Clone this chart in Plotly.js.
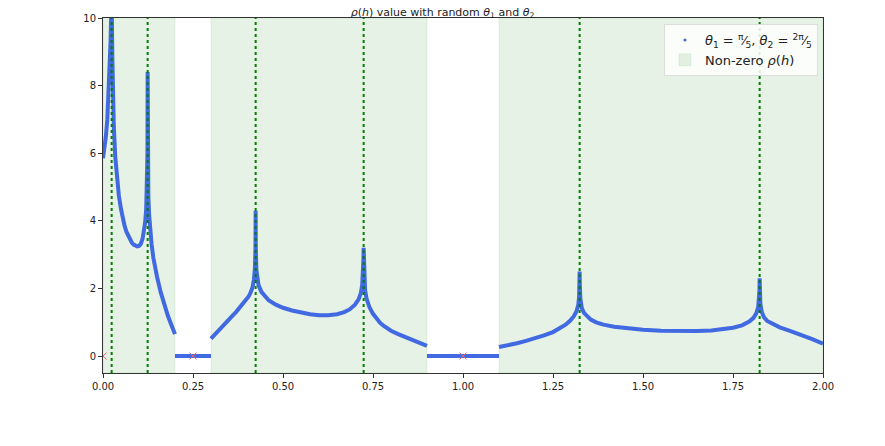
<!DOCTYPE html>
<html><head><meta charset="utf-8">
<script src="https://cdn.plot.ly/plotly-3.0.1.min.js"></script>
<style>body{margin:0;background:#fff}</style>
</head><body><div id="chart" style="width:885px;height:446px"></div>
<script>
// Segment 1 (non-zero region 0 - 0.2)
const seg1X = [0, 0.004, 0.008, 0.012, 0.016, 0.019, 0.021, 0.023, 0.024, 0.026, 0.028, 0.03, 0.034, 0.038, 0.044, 0.05, 0.055, 0.06, 0.065, 0.07, 0.075, 0.08, 0.085, 0.09, 0.095, 0.1, 0.105, 0.11, 0.114, 0.117, 0.12, 0.122, 0.1235, 0.124, 0.1245, 0.126, 0.128, 0.13, 0.135, 0.14, 0.145, 0.15, 0.16, 0.17, 0.18, 0.19, 0.2];
const seg1Y = [5.85, 6.1, 6.5, 7.0, 7.8, 8.5, 9.3, 10.2, 10.6, 8.8, 7.6, 6.8, 5.9, 5.3, 4.75, 4.35, 4.05, 3.85, 3.68, 3.55, 3.44, 3.36, 3.3, 3.26, 3.245, 3.26, 3.32, 3.47, 3.7, 3.95, 4.35, 4.9, 6.0, 8.4, 6.0, 4.7, 4.2, 3.85, 3.3, 2.9, 2.6, 2.35, 1.9, 1.53, 1.2, 0.92, 0.65];
// Segment 2 (non-zero region 0.3 - 0.9)
const seg2X = [0.3, 0.31, 0.32, 0.33, 0.34, 0.35, 0.36, 0.37, 0.38, 0.39, 0.4, 0.405, 0.41, 0.415, 0.419, 0.422, 0.4235, 0.424, 0.4245, 0.426, 0.428, 0.432, 0.44, 0.45, 0.46, 0.48, 0.5, 0.525, 0.55, 0.575, 0.6, 0.625, 0.65, 0.67, 0.685, 0.7, 0.71, 0.716, 0.72, 0.7225, 0.7235, 0.724, 0.7245, 0.726, 0.728, 0.732, 0.74, 0.75, 0.76, 0.77, 0.78, 0.8, 0.82, 0.84, 0.86, 0.88, 0.9];
const seg2Y = [0.52, 0.64, 0.76, 0.87, 0.98, 1.09, 1.2, 1.31, 1.43, 1.55, 1.68, 1.77, 1.88, 2.02, 2.25, 2.6, 3.2, 4.3, 3.2, 2.55, 2.3, 2.1, 1.9, 1.75, 1.65, 1.52, 1.43, 1.35, 1.29, 1.24, 1.21, 1.21, 1.24, 1.3, 1.38, 1.52, 1.68, 1.85, 2.1, 2.45, 2.9, 3.2, 2.8, 2.3, 1.95, 1.7, 1.45, 1.25, 1.1, 0.98, 0.89, 0.75, 0.65, 0.56, 0.47, 0.38, 0.3];
// Segment 3 (non-zero region 1.1 - 2.0)
const seg3X = [1.1, 1.125, 1.15, 1.175, 1.2, 1.225, 1.25, 1.27, 1.285, 1.298, 1.308, 1.315, 1.32, 1.3225, 1.3235, 1.324, 1.3245, 1.326, 1.33, 1.336, 1.344, 1.355, 1.37, 1.39, 1.42, 1.45, 1.5, 1.55, 1.6, 1.65, 1.69, 1.72, 1.75, 1.775, 1.795, 1.807, 1.815, 1.82, 1.8225, 1.8235, 1.824, 1.8245, 1.826, 1.83, 1.836, 1.845, 1.86, 1.88, 1.91, 1.94, 1.97, 2.0];
const seg3Y = [0.27, 0.32, 0.38, 0.45, 0.52, 0.61, 0.71, 0.82, 0.93, 1.05, 1.18, 1.32, 1.5, 1.75, 2.1, 2.5, 2.1, 1.7, 1.42, 1.28, 1.18, 1.08, 1.0, 0.93, 0.87, 0.83, 0.78, 0.75, 0.73, 0.74, 0.76, 0.79, 0.84, 0.91, 1.02, 1.13, 1.27, 1.45, 1.65, 1.95, 2.3, 1.9, 1.55, 1.3, 1.15, 1.04, 0.95, 0.85, 0.74, 0.63, 0.5, 0.37];
// Zero-valued intervals
const zeroX1 = [0.2, 0.3];
const zeroX2 = [0.9, 1.1];
const zeroY = [0, 0];
// Non-zero regions (shaded)
const nzStart = [0.0, 0.3, 1.1];
const nzEnd = [0.2, 0.9, 2.0];
// Singularities (dotted lines)
const spikes = [0.024, 0.124, 0.424, 0.724, 1.324, 1.824];
// Red x markers
const markX = [0, 0.25, 1.0];
const markY = [0, 0, 0];

const blue = '#4169E1';
const curveX = [].concat(seg1X, [null], seg2X, [null], seg3X, [null], zeroX1, [null], zeroX2);
const curveY = [].concat(seg1Y, [null], seg2Y, [null], seg3Y, [null], zeroY, [null], zeroY);

const traces = [
  {x: curveX, y: curveY, mode: 'lines', line: {color: blue, width: 4}, showlegend: false, hoverinfo: 'skip', connectgaps: false},
  {x: markX, y: markY, mode: 'markers', marker: {symbol: 'x-thin-open', size: 7, color: '#f06070', line: {width: 1, color: '#f06070'}}, showlegend: false},
  {x: [null], y: [null], mode: 'markers', marker: {color: blue, size: 3}, name: '<i>θ</i><sub>1</sub> = <sup>π</sup>⁄<sub>5</sub>, <i>θ</i><sub>2</sub> = <sup>2π</sup>⁄<sub>5</sub>'}
];

const shapes = [];
nzStart.forEach((s, i) => {
  shapes.push({type: 'rect', xref: 'x', yref: 'paper', x0: s, x1: nzEnd[i], y0: 0, y1: 1,
    fillcolor: 'rgba(0,128,0,0.1)', line: {width: 1, color: 'rgba(0,128,0,0.08)'}, layer: 'below',
    showlegend: i === 0, name: 'Non-zero <i>ρ</i>(<i>h</i>)', legendgroup: 'nz'});
});
spikes.forEach(s => {
  shapes.push({type: 'line', xref: 'x', yref: 'paper', x0: s, x1: s, y0: 0, y1: 1,
    line: {color: 'green', width: 2, dash: 'dot'}, layer: 'above'});
});

const layout = {
  width: 885, height: 446,
  margin: {l: 103, r: 62, t: 18, b: 73},
  paper_bgcolor: '#fff', plot_bgcolor: '#fff',
  font: {family: 'DejaVu Sans', size: 10, color: '#222'},
  title: {text: '<i>ρ</i>(<i>h</i>) value with random <i>θ</i><sub>1</sub> and <i>θ</i><sub>2</sub>', font: {size: 11}, x: 0.5, xanchor: 'center', y: 0.982, yanchor: 'top'},
  xaxis: {range: [0, 2], tickvals: [0, 0.25, 0.5, 0.75, 1, 1.25, 1.5, 1.75, 2], tickformat: '.2f',
    showgrid: false, zeroline: false, showline: true, mirror: true, linecolor: '#333', linewidth: 1,
    ticks: 'outside', ticklen: 4, tickcolor: '#333'},
  yaxis: {range: [-0.5, 10], tickvals: [0, 2, 4, 6, 8, 10],
    showgrid: false, zeroline: false, showline: true, mirror: true, linecolor: '#333', linewidth: 1,
    ticks: 'outside', ticklen: 4, tickcolor: '#333'},
  legend: {x: 0.993, xanchor: 'right', y: 0.983, yanchor: 'top', bgcolor: 'rgba(255,255,255,0.85)',
    bordercolor: '#ddd', borderwidth: 1, font: {size: 13, family: 'DejaVu Sans'}, tracegroupgap: 0},
  shapes: shapes,
  showlegend: true
};
Plotly.newPlot('chart', traces, layout, {displayModeBar: false, staticPlot: true});
</script></body></html>
